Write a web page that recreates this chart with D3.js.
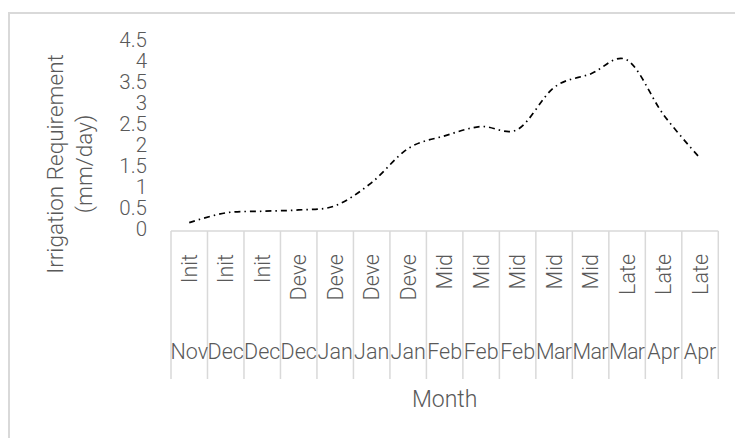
<!DOCTYPE html>
<html>
<head>
<meta charset="utf-8">
<script src="https://cdn.jsdelivr.net/npm/d3@7"></script>
<style>
  html, body { margin: 0; padding: 0; background: #fff; }
  svg { display: block; }
  text { font-family: Roboto, "Noto Sans", sans-serif; fill: #595959; font-weight: 300; }
</style>
</head>
<body>
<svg id="chart" width="735" height="438"></svg>
<script>
const months = ["Nov","Dec","Dec","Dec","Jan","Jan","Jan","Feb","Feb","Feb","Mar","Mar","Mar","Apr","Apr"];
const stages = ["Init","Init","Init","Deve","Deve","Deve","Deve","Mid","Mid","Mid","Mid","Mid","Late","Late","Late"];
const values = [0.2, 0.43, 0.47, 0.5, 0.6, 1.15, 1.96, 2.26, 2.48, 2.41, 3.41, 3.73, 4.06, 2.76, 1.73];
const yTicks = [0, 0.5, 1, 1.5, 2, 2.5, 3, 3.5, 4, 4.5];
const yTitle = ["Irrigation Requirement", "(mm/day)"];
const xTitle = "Month";

const svg = d3.select("#chart");
const W = 735, H = 438;
const plot = { left: 171, right: 718.3, top: 41.5, bottom: 231 };
const gridColor = "#d9d9d9";

// chart border (only top & left visible, extends past the image)
svg.append("rect")
  .attr("x", 9).attr("y", 13)
  .attr("width", W + 20).attr("height", H + 20)
  .attr("fill", "none").attr("stroke", gridColor).attr("stroke-width", 2);

const idx = d3.range(values.length);
const x = d3.scaleBand().domain(idx).range([plot.left, plot.right]).paddingInner(0).paddingOuter(0);
const y = d3.scaleLinear().domain([0, 4.5]).range([plot.bottom, plot.top]);

// x axis line
svg.append("line")
  .attr("x1", plot.left).attr("x2", plot.right)
  .attr("y1", plot.bottom).attr("y2", plot.bottom)
  .attr("stroke", gridColor).attr("stroke-width", 1.5);

// category divider lines
const bounds = idx.map(i => x(i)).concat([x(idx[idx.length - 1]) + x.bandwidth()]);
svg.append("g").selectAll("line").data(bounds).join("line")
  .attr("x1", d => d).attr("x2", d => d)
  .attr("y1", plot.bottom).attr("y2", 379)
  .attr("stroke", gridColor).attr("stroke-width", 1.5);

// inner level: stage labels rotated
svg.append("g").selectAll("text").data(idx).join("text")
  .attr("transform", i => `translate(${x(i) + x.bandwidth() / 2 + 7.5},254) rotate(-90)`)
  .attr("text-anchor", "end")
  .attr("font-size", 21.5)
  .text(i => stages[i]);

// outer level: month labels
svg.append("g").selectAll("text").data(idx).join("text")
  .attr("x", i => x(i) + x.bandwidth() / 2)
  .attr("y", 359)
  .attr("text-anchor", "middle")
  .attr("font-size", 21.5)
  .attr("textLength", i => months[i] === "Mar" ? 36 : null)
  .text(i => months[i]);

// y tick labels
svg.append("g").selectAll("text").data(yTicks).join("text")
  .attr("x", 147)
  .attr("y", d => y(d) + 5)
  .attr("text-anchor", "end")
  .attr("font-size", 20.5)
  .text(d => d3.format("")(d));

// y title
const yt = svg.append("text")
  .attr("transform", "translate(0,164) rotate(-90)")
  .attr("text-anchor", "middle")
  .attr("font-size", 22.5);
yt.append("tspan").attr("x", 0).attr("y", 63).text(yTitle[0]);
yt.append("tspan").attr("x", 0).attr("y", 92).text(yTitle[1]);

// x title
svg.append("text")
  .attr("x", (plot.left + plot.right) / 2)
  .attr("y", 407)
  .attr("text-anchor", "middle")
  .attr("font-size", 23)
  .text(xTitle);

// line
const line = d3.line()
  .x(i => x(i) + x.bandwidth() / 2)
  .y(i => y(values[i]))
  .curve(d3.curveCardinal.tension(0));

svg.append("path")
  .datum(idx)
  .attr("d", line)
  .attr("fill", "none")
  .attr("stroke", "#000")
  .attr("stroke-width", 1.7)
  .attr("stroke-dasharray", "6,4,1.5,4");
</script>
</body>
</html>
